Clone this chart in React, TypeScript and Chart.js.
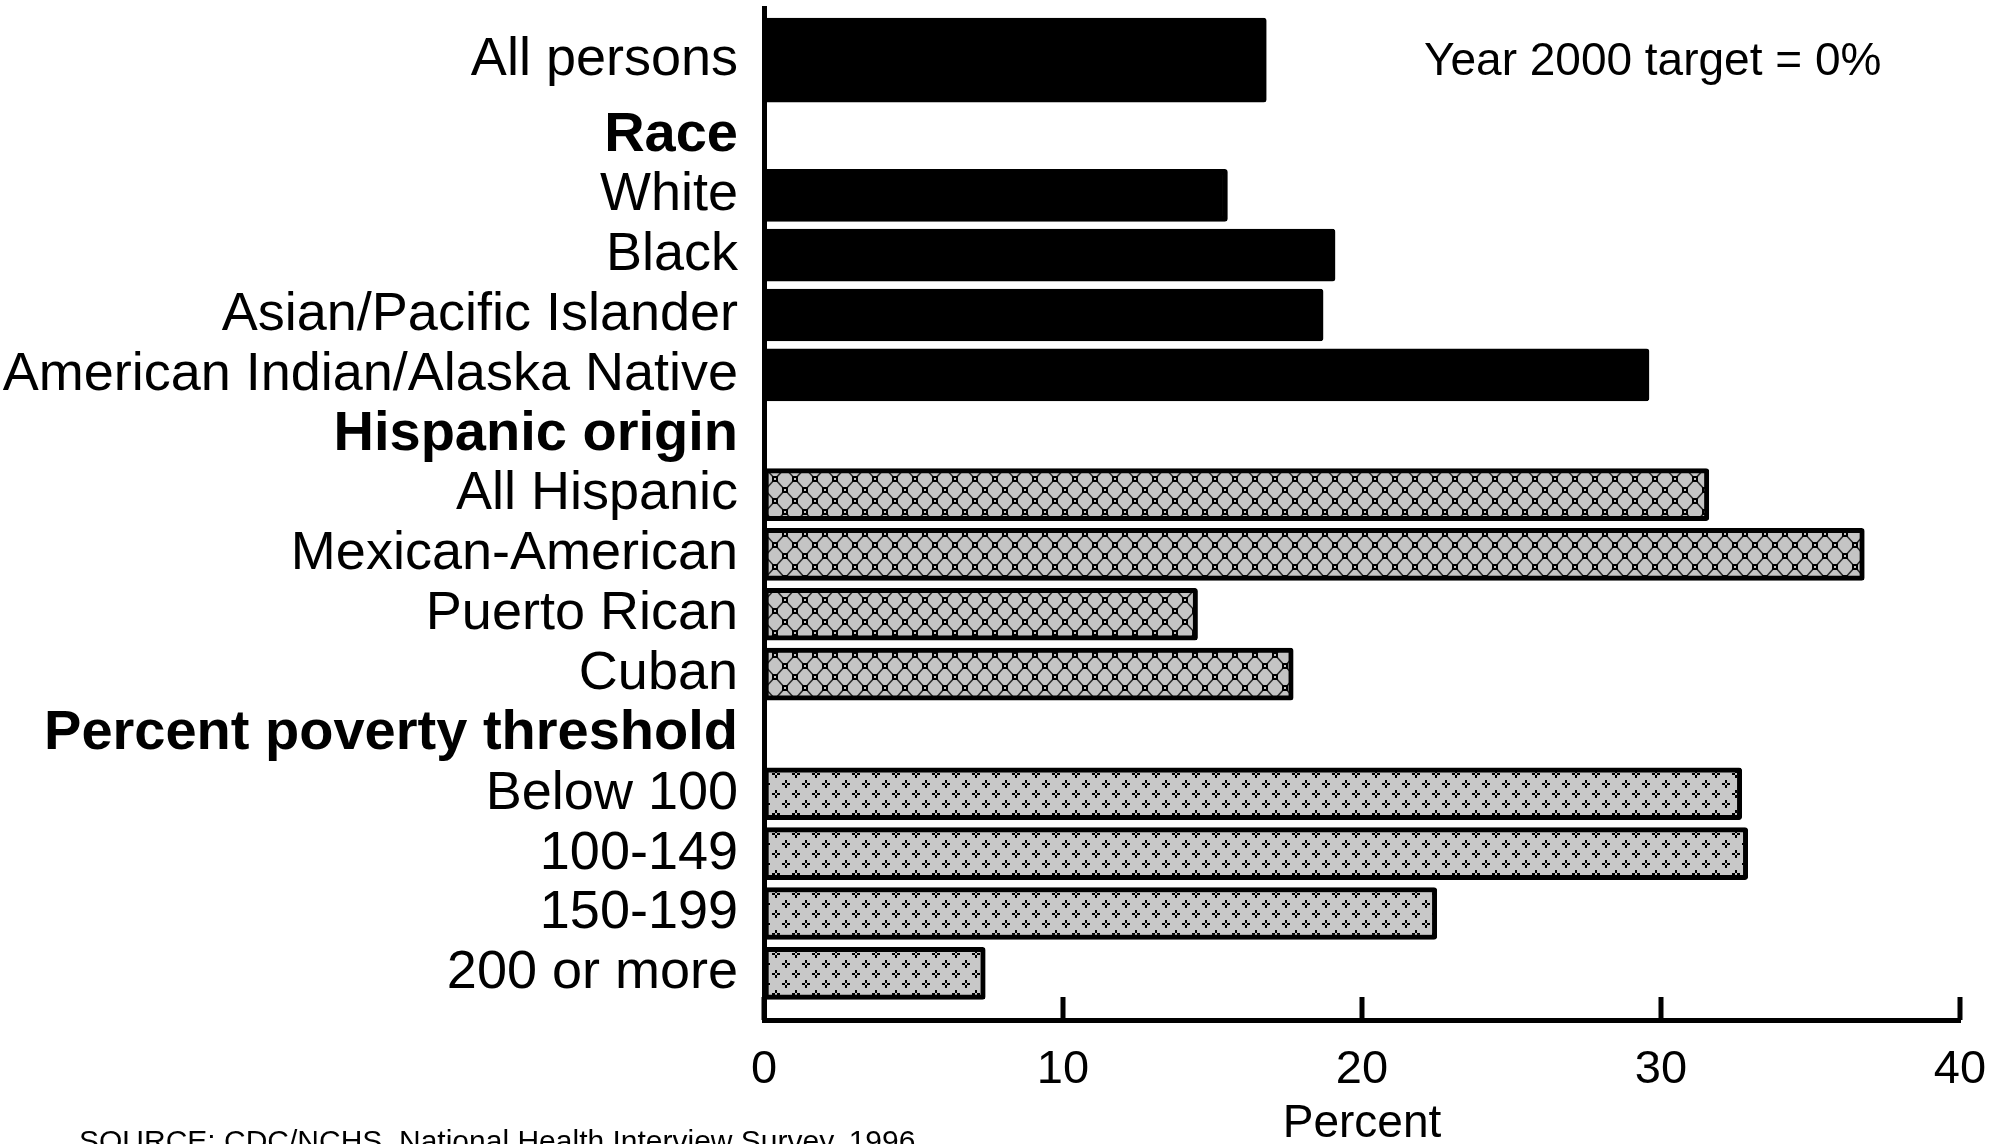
import React, { useEffect, useRef } from 'react';
import { Chart, registerables } from 'chart.js';

Chart.register(...registerables);

const FONT = "'Liberation Sans', Arial, Helvetica, sans-serif";

const categories = [
  'All persons',
  'Race',
  'White',
  'Black',
  'Asian/Pacific Islander',
  'American Indian/Alaska Native',
  'Hispanic origin',
  'All Hispanic',
  'Mexican-American',
  'Puerto Rican',
  'Cuban',
  'Percent poverty threshold',
  'Below 100',
  '100-149',
  '150-199',
  '200 or more',
];

const rowGroups = [
  'total',
  'heading',
  'race',
  'race',
  'race',
  'race',
  'heading',
  'hispanic',
  'hispanic',
  'hispanic',
  'hispanic',
  'heading',
  'poverty',
  'poverty',
  'poverty',
  'poverty',
];

const percentValues: (number | null)[] = [
  16.8, null, 15.5, 19.1, 18.7, 29.6, null, 31.6, 36.8, 14.5, 17.7, null, 32.7, 32.9, 22.5, 7.4,
];

const xTickValues = [0, 10, 20, 30, 40];

const targetNote = 'Year 2000 target = 0%';
const sourceNote = 'SOURCE: CDC/NCHS, National Health Interview Survey, 1996';
const xAxisTitle = 'Percent';

function makeCheckerPattern(ctx: CanvasRenderingContext2D): CanvasPattern | string {
  const w = 20;
  const h = 22;
  const c = document.createElement('canvas');
  c.width = w;
  c.height = h;
  const g = c.getContext('2d');
  if (!g) return '#c8c8c8';
  g.fillStyle = '#c4c4c4';
  g.fillRect(0, 0, w, h);
  g.strokeStyle = '#2a2a2a';
  g.lineWidth = 1.6;
  const edges = [
    [5, 6, 15, 17],
    [5, 6, -5, 17],
    [15, 17, 25, 28],
    [15, 17, 5, 28],
  ];
  for (let ox = -w; ox <= w; ox += w) {
    for (let oy = -h; oy <= h; oy += h) {
      g.beginPath();
      edges.forEach(([x1, y1, x2, y2]) => {
        g.moveTo(x1 + ox, y1 + oy);
        g.lineTo(x2 + ox, y2 + oy);
      });
      g.stroke();
    }
  }
  const pts = [
    [5, 6],
    [15, 17],
  ];
  pts.forEach(([x, y]) => {
    g.fillStyle = '#000';
    g.fillRect(x - 3, y - 3, 6, 6);
    g.fillStyle = '#c4c4c4';
    g.fillRect(x - 1, y - 1, 2, 2);
  });
  const p = ctx.createPattern(c, 'repeat');
  return p || '#c8c8c8';
}

function makeDiamondPattern(ctx: CanvasRenderingContext2D): CanvasPattern | string {
  const w = 20;
  const h = 20;
  const c = document.createElement('canvas');
  c.width = w;
  c.height = h;
  const g = c.getContext('2d');
  if (!g) return '#c8c8c8';
  g.fillStyle = '#c8c8c8';
  g.fillRect(0, 0, w, h);
  g.fillStyle = '#000';
  const pts = [
    [6, 4],
    [16, 14],
  ];
  pts.forEach(([x, y]) => {
    g.fillRect(x - 1, y - 4, 2, 3);
    g.fillRect(x - 1, y + 1, 2, 3);
    g.fillRect(x - 4, y - 1, 3, 2);
    g.fillRect(x + 1, y - 1, 3, 2);
  });
  const p = ctx.createPattern(c, 'repeat');
  return p || '#c8c8c8';
}

export default function App() {
  const canvasRef = useRef<HTMLCanvasElement | null>(null);

  useEffect(() => {
    const canvas = canvasRef.current;
    if (!canvas) return;
    const ctx = canvas.getContext('2d');
    if (!ctx) return;

    const checker = makeCheckerPattern(ctx);
    const diamond = makeDiamondPattern(ctx);

    const fillFor = (group: string) =>
      group === 'hispanic' ? checker : group === 'poverty' ? diamond : '#000';

    const totalPoints: any[] = [];
    const groupPoints: any[] = [];
    const groupFills: any[] = [];
    percentValues.forEach((v, i) => {
      if (v === null) return;
      if (rowGroups[i] === 'total') {
        totalPoints.push({ x: v, y: i });
      } else {
        groupPoints.push({ x: v, y: i });
        groupFills.push(fillFor(rowGroups[i]));
      }
    });

    const decor = {
      id: 'decor',
      afterDraw(chart: any) {
        const c = chart.ctx;
        const area = chart.chartArea;
        const xs = chart.scales.x;
        const yt = chart.scales.yTotal;
        c.save();
        c.strokeStyle = '#000';
        c.lineWidth = 5;
        xTickValues.forEach((v) => {
          const px = xs.getPixelForValue(v);
          c.beginPath();
          c.moveTo(px, area.bottom);
          c.lineTo(px, area.bottom - 23);
          c.stroke();
        });
        c.fillStyle = '#000';
        // labels of the overall-total rows, aligned with their own (thicker) bars
        c.font = `54px ${FONT}`;
        c.textAlign = 'right';
        c.textBaseline = 'middle';
        categories.forEach((label, i) => {
          if (rowGroups[i] !== 'total') return;
          c.fillText(label, area.left - 26, yt.getPixelForValue(i));
        });
        c.font = `46px ${FONT}`;
        c.textAlign = 'left';
        c.textBaseline = 'middle';
        c.fillText(targetNote, 1424, 62);
        c.font = `30px ${FONT}`;
        c.textBaseline = 'alphabetic';
        c.fillText(sourceNote, 79, 1151);
        c.restore();
      },
    };

    const chart = new Chart(canvas, {
      type: 'bar',
      data: {
        datasets: [
          {
            data: totalPoints,
            yAxisID: 'yTotal',
            backgroundColor: '#000',
            borderColor: '#000',
            borderWidth: 2,
            borderSkipped: false,
            borderRadius: 3,
            barThickness: 84,
            grouped: false,
          } as any,
          {
            data: groupPoints,
            yAxisID: 'y',
            backgroundColor: groupFills,
            borderColor: '#000',
            borderWidth: 5,
            borderSkipped: false,
            borderRadius: 3,
            barThickness: 52,
            grouped: false,
          } as any,
        ],
      },
      options: {
        indexAxis: 'y',
        animation: false,
        responsive: false,
        devicePixelRatio: 1,
        layout: { padding: { top: 8, left: 0, right: 42, bottom: 0 } },
        plugins: {
          legend: { display: false },
          tooltip: { enabled: false },
        },
        scales: {
          x: {
            type: 'linear',
            position: 'bottom',
            offset: false,
            min: 0,
            max: 40,
            grid: { display: false, drawTicks: false },
            border: { display: true, color: '#000', width: 5 },
            ticks: {
              stepSize: 10,
              maxRotation: 0,
              padding: 27,
              color: '#000',
              font: { family: FONT, size: 47, lineHeight: 1 },
            },
            title: {
              display: true,
              text: xAxisTitle,
              color: '#000',
              font: { family: FONT, size: 46, lineHeight: 0.85 },
              padding: { top: 0, bottom: 0 },
            },
            afterFit: (scale: any) => {
              scale.height = 124;
              scale.paddingLeft = 0;
              scale.paddingRight = 0;
            },
          },
          y: {
            type: 'linear',
            position: 'left',
            offset: false,
            reverse: true,
            min: -1.13,
            max: 15.78,
            grid: { display: false, drawTicks: false, offset: false },
            border: { display: true, color: '#000', width: 5 },
            afterBuildTicks: (scale: any) => {
              scale.ticks = categories.map((_, i) => ({ value: i }));
            },
            ticks: {
              autoSkip: false,
              padding: 26,
              color: '#000',
              callback: (value: any) =>
                rowGroups[Number(value)] === 'total' ? '' : categories[Number(value)] ?? '',
              font: (c: any) => {
                const heading = rowGroups[c.index] === 'heading';
                return {
                  family: FONT,
                  size: heading ? 56 : 54,
                  lineHeight: 1,
                  weight: heading ? 'bold' : 'normal',
                };
              },
            },
            afterFit: (scale: any) => {
              scale.width = 764;
              scale.paddingTop = 0;
              scale.paddingBottom = 0;
            },
          },
          yTotal: {
            type: 'linear',
            axis: 'y',
            position: 'left',
            display: false,
            offset: false,
            reverse: true,
            min: -0.87,
            max: 16.04,
            grid: { display: false, offset: false },
          },
        },
      },
      plugins: [decor],
    } as any);

    return () => chart.destroy();
  }, []);

  return (
    <div style={{ position: 'absolute', left: 0, top: 0, width: 2002, height: 1144, background: '#fff' }}>
      <canvas ref={canvasRef} width={2002} height={1144} style={{ display: 'block' }} />
    </div>
  );
}
